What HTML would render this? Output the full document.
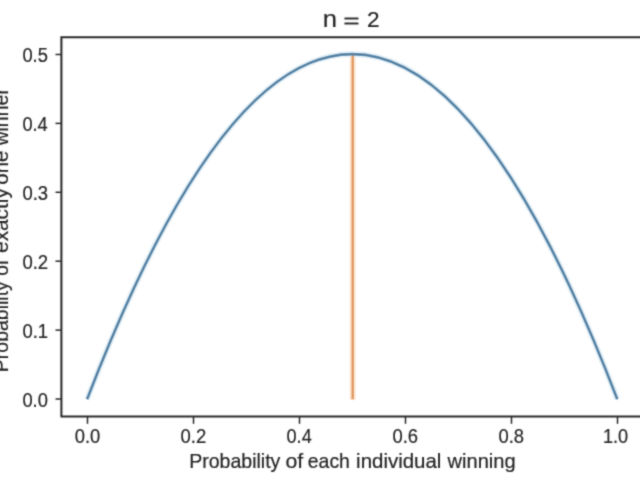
<!DOCTYPE html>
<html>
<head>
<meta charset="utf-8">
<title>n = 2</title>
<style>
html,body{margin:0;padding:0;background:#fff;width:640px;height:480px;overflow:hidden;}
svg{display:block;}
text{font-family:"Liberation Sans",sans-serif;fill:#262626;stroke:#262626;stroke-width:0.2px;}
</style>
</head>
<body>
<svg width="640" height="480" viewBox="0 0 640 480">
<defs><filter id="b" x="-5%" y="-5%" width="110%" height="110%"><feConvolveMatrix order="3" kernelMatrix="1 4 1 4 16 4 1 4 1" preserveAlpha="false"/></filter></defs>
<rect x="0" y="0" width="640" height="480" fill="#fff"/>
<g filter="url(#b)">
<line x1="352.7" y1="400" x2="352.7" y2="55" stroke="#fce6d2" stroke-width="6"/>
<path d="M87.1,399.2 Q352.3,-291 617.3,399.2" fill="none" stroke="#e4f1f8" stroke-width="6"/>
<line x1="352.7" y1="399.2" x2="352.7" y2="54.5" stroke="#e0985c" stroke-width="2.4"/>
<path d="M87.1,399.2 Q352.3,-291 617.3,399.2" fill="none" stroke="#4d7fa3" stroke-width="2.6"/>
<g stroke="#2a2a2a" stroke-width="2.0" fill="none">
<path d="M61.4,416.5 L61.4,37.3 L644,37.3"/>
<path d="M60.6,416.5 L644,416.5"/>
</g>
<g stroke="#2a2a2a" stroke-width="1.5">
<line x1="55.5" y1="399.0" x2="61.4" y2="399.0"/>
<line x1="55.5" y1="330.1" x2="61.4" y2="330.1"/>
<line x1="55.5" y1="261.2" x2="61.4" y2="261.2"/>
<line x1="55.5" y1="192.3" x2="61.4" y2="192.3"/>
<line x1="55.5" y1="123.4" x2="61.4" y2="123.4"/>
<line x1="55.5" y1="54.5" x2="61.4" y2="54.5"/>
<line x1="87.5" y1="416.4" x2="87.5" y2="423.8"/>
<line x1="193.5" y1="416.4" x2="193.5" y2="423.8"/>
<line x1="299.5" y1="416.4" x2="299.5" y2="423.8"/>
<line x1="405.5" y1="416.4" x2="405.5" y2="423.8"/>
<line x1="511.5" y1="416.4" x2="511.5" y2="423.8"/>
<line x1="617.5" y1="416.4" x2="617.5" y2="423.8"/>
</g>
<text transform="translate(22.41,406.95) scale(0.9200,1)" font-size="19.96">0.0</text>
<text transform="translate(22.41,338.05) scale(0.9243,1)" font-size="19.96">0.1</text>
<text transform="translate(22.40,269.15) scale(0.9289,1)" font-size="19.96">0.2</text>
<text transform="translate(22.41,200.25) scale(0.9243,1)" font-size="19.96">0.3</text>
<text transform="translate(22.42,131.35) scale(0.9114,1)" font-size="19.96">0.4</text>
<text transform="translate(22.41,62.45) scale(0.9200,1)" font-size="19.96">0.5</text>
<text transform="translate(74.71,443.45) scale(0.9174,1)" font-size="20.10">0.0</text>
<text transform="translate(180.51,443.45) scale(0.9204,1)" font-size="20.10">0.2</text>
<text transform="translate(286.52,443.45) scale(0.9031,1)" font-size="20.10">0.4</text>
<text transform="translate(392.51,443.45) scale(0.9159,1)" font-size="20.10">0.6</text>
<text transform="translate(498.51,443.45) scale(0.9159,1)" font-size="20.10">0.8</text>
<text transform="translate(602.89,443.45) scale(0.9034,1)" font-size="20.10">1.0</text>
<text transform="translate(322.63,27.20) scale(1.0770,1)" font-size="23.81">n</text>
<text transform="translate(343.29,27.56) scale(1.3359,1)" font-size="21.04">=</text>
<text transform="translate(366.97,27.20) scale(1.0049,1)" font-size="22.48">2</text>
<text transform="translate(189.22,467.50) scale(0.9671,1)" font-size="20.20">Probability</text>
<text transform="translate(285.46,467.50) scale(1.0544,1)" font-size="20.20">of</text>
<text transform="translate(307.74,467.50) scale(0.9639,1)" font-size="20.20">each</text>
<text transform="translate(356.09,467.50) scale(1.0132,1)" font-size="20.20">individual</text>
<text transform="translate(447.50,467.50) scale(0.9961,1)" font-size="20.20">winning</text>
<text transform="translate(7.90,372.18) rotate(-90) scale(0.9655,1)" font-size="20.20">Probability</text>
<text transform="translate(7.90,275.84) rotate(-90) scale(0.9483,1)" font-size="20.20">of</text>
<text transform="translate(7.90,252.92) rotate(-90) scale(1.0299,1)" font-size="20.20">exactly</text>
<text transform="translate(7.90,184.64) rotate(-90) scale(1.0067,1)" font-size="20.20">one</text>
<text transform="translate(7.90,145.60) rotate(-90) scale(0.9678,1)" font-size="20.20">winner</text>
</g>
</svg>
</body>
</html>
